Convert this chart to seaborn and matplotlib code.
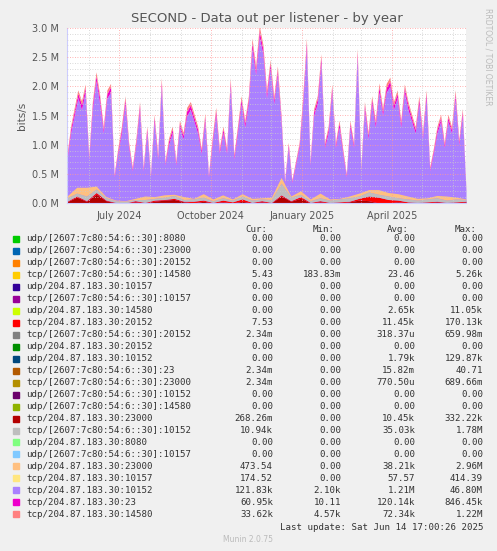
import numpy as np
import pandas as pd
import matplotlib
matplotlib.use("Agg")
import matplotlib.pyplot as plt
import matplotlib.dates as mdates
import seaborn as sns

# -------------------------------
# Data (bits/s)
# -------------------------------
start, end = "2024-05-10", "2025-06-14"

# tcp/204.87.183.30:10152 (purple, main series), in M
purple = [0.75, 1.2, 1.5, 1.8, 1.6, 1.9, 0.75, 1.6, 2.1, 1.7, 1.2, 1.8, 1.9, 0.45, 0.85,
          1.2, 1.7, 0.95, 0.55, 1.0, 1.6, 0.55, 1.2, 0.45, 1.4, 0.75, 2.0, 0.65, 1.0, 1.2,
          0.65, 1.3, 1.1, 1.5, 1.6, 1.4, 1.2, 0.85, 1.4, 0.45, 1.0, 1.5, 0.85, 1.2, 0.85,
          2.0, 0.75, 1.2, 1.7, 1.3, 1.7, 2.65, 2.2, 2.85, 2.55, 1.8, 2.3, 1.7, 2.2, 1.4,
          0.35, 0.95, 0.35, 0.65, 0.95, 1.7, 2.65, 0.65, 1.5, 1.7, 2.4, 0.95, 1.2, 1.9,
          0.95, 1.3, 0.85, 0.45, 1.3, 0.95, 2.5, 0.55, 1.6, 1.1, 1.7, 1.3, 1.9, 1.5, 1.9,
          2.0, 1.6, 1.8, 1.3, 1.9, 1.6, 1.4, 1.2, 1.7, 1.1, 1.8, 0.55, 0.85, 1.2, 1.4, 0.95,
          1.4, 1.2, 1.8, 1.0, 1.5, 0.2]
# tcp/204.87.183.30:23 (magenta), in M
magenta = [0.05, 0.07, 0.08, 0.08, 0.09, 0.08, 0.04, 0.09, 0.08, 0.10, 0.06, 0.08, 0.09, 0.03, 0.05,
           0.07, 0.08, 0.05, 0.04, 0.06, 0.08, 0.04, 0.07, 0.03, 0.07, 0.05, 0.08, 0.04, 0.06, 0.07,
           0.04, 0.07, 0.06, 0.08, 0.08, 0.07, 0.07, 0.05, 0.08, 0.03, 0.06, 0.08, 0.05, 0.07, 0.05,
           0.08, 0.05, 0.07, 0.08, 0.07, 0.08, 0.10, 0.08, 0.10, 0.09, 0.08, 0.09, 0.07, 0.08, 0.07,
           0.03, 0.05, 0.03, 0.04, 0.05, 0.08, 0.10, 0.04, 0.07, 0.08, 0.09, 0.05, 0.07, 0.08,
           0.05, 0.07, 0.05, 0.03, 0.07, 0.05, 0.08, 0.04, 0.08, 0.06, 0.08, 0.07, 0.09, 0.07, 0.08,
           0.09, 0.08, 0.08, 0.07, 0.08, 0.08, 0.07, 0.06, 0.08, 0.06, 0.08, 0.04, 0.05, 0.07, 0.07, 0.05,
           0.07, 0.06, 0.08, 0.05, 0.07, 0.01]
# tcp/204.87.183.30:14580 (salmon), in M
salmon = [0.04, 0.05, 0.06, 0.06, 0.06, 0.06, 0.03, 0.06, 0.07, 0.06, 0.05, 0.06, 0.06, 0.02, 0.04,
          0.05, 0.06, 0.04, 0.03, 0.05, 0.06, 0.03, 0.05, 0.02, 0.05, 0.04, 0.07, 0.03, 0.05, 0.05,
          0.03, 0.05, 0.05, 0.06, 0.06, 0.06, 0.05, 0.04, 0.06, 0.02, 0.05, 0.06, 0.04, 0.05, 0.04,
          0.07, 0.04, 0.05, 0.06, 0.05, 0.06, 0.08, 0.07, 0.09, 0.08, 0.06, 0.07, 0.06, 0.07, 0.05,
          0.02, 0.04, 0.02, 0.03, 0.04, 0.06, 0.08, 0.03, 0.05, 0.06, 0.07, 0.04, 0.05, 0.06,
          0.04, 0.05, 0.04, 0.02, 0.05, 0.04, 0.07, 0.03, 0.06, 0.05, 0.06, 0.05, 0.07, 0.06, 0.07,
          0.07, 0.06, 0.06, 0.05, 0.06, 0.06, 0.05, 0.05, 0.06, 0.05, 0.06, 0.03, 0.04, 0.05, 0.05, 0.04,
          0.05, 0.05, 0.06, 0.04, 0.05, 0.01]

# small bottom series (coarser), in M
low_darkred = [0.02, 0.10, 0.03, 0.15, 0.04, 0.0, 0.0, 0.02, 0.0, 0.03, 0.05, 0.06, 0.02, 0.0, 0.03,
               0.0, 0.02, 0.0, 0.03, 0.0, 0.02, 0.0, 0.12, 0.03, 0.08, 0.0, 0.02, 0.0, 0.0, 0.02,
               0.05, 0.04, 0.0, 0.0, 0.02, 0.0, 0.0, 0.0, 0.02, 0.0, 0.0, 0.02]
low_red = [0.01, 0.02, 0.01, 0.03, 0.01, 0.01, 0.0, 0.02, 0.01, 0.02, 0.01, 0.02, 0.01, 0.03, 0.02,
           0.01, 0.03, 0.02, 0.04, 0.01, 0.02, 0.01, 0.02, 0.01, 0.03, 0.01, 0.02, 0.01, 0.02, 0.01,
           0.03, 0.08, 0.10, 0.06, 0.03, 0.02, 0.01, 0.02, 0.01, 0.01, 0.02, 0.01]
low_grey = [0.06, 0.05, 0.08, 0.06, 0.04, 0.03, 0.03, 0.02, 0.05, 0.03, 0.04, 0.05, 0.03, 0.04, 0.05,
            0.03, 0.04, 0.03, 0.05, 0.04, 0.03, 0.05, 0.20, 0.06, 0.04, 0.03, 0.05, 0.04, 0.05, 0.06,
            0.04, 0.07, 0.05, 0.06, 0.04, 0.05, 0.04, 0.05, 0.06, 0.04, 0.05, 0.03]
low_orange = [0.03, 0.10, 0.15, 0.05, 0.02, 0.01, 0.01, 0.02, 0.06, 0.03, 0.04, 0.02, 0.05, 0.01, 0.06,
              0.03, 0.05, 0.02, 0.04, 0.03, 0.02, 0.04, 0.10, 0.02, 0.06, 0.03, 0.08, 0.02, 0.01, 0.03,
              0.05, 0.04, 0.08, 0.06, 0.07, 0.05, 0.03, 0.02, 0.04, 0.07, 0.03, 0.01]

labels = ["udp/[2607:7c80:54:6::30]:8080", "udp/[2607:7c80:54:6::30]:23000",
          "udp/[2607:7c80:54:6::30]:20152", "tcp/[2607:7c80:54:6::30]:14580",
          "udp/204.87.183.30:10157", "tcp/[2607:7c80:54:6::30]:10157",
          "udp/204.87.183.30:14580", "tcp/204.87.183.30:20152",
          "tcp/[2607:7c80:54:6::30]:20152", "udp/204.87.183.30:20152",
          "udp/204.87.183.30:10152", "tcp/[2607:7c80:54:6::30]:23",
          "tcp/[2607:7c80:54:6::30]:23000", "udp/[2607:7c80:54:6::30]:10152",
          "udp/[2607:7c80:54:6::30]:14580", "tcp/204.87.183.30:23000",
          "tcp/[2607:7c80:54:6::30]:10152", "udp/204.87.183.30:8080",
          "udp/[2607:7c80:54:6::30]:10157", "udp/204.87.183.30:23000",
          "tcp/204.87.183.30:10157", "tcp/204.87.183.30:10152",
          "tcp/204.87.183.30:23", "tcp/204.87.183.30:14580"]
cur = ["0.00", "0.00", "0.00", "5.43", "0.00", "0.00", "0.00", "7.53", "2.34m", "0.00", "0.00",
       "2.34m", "2.34m", "0.00", "0.00", "268.26m", "10.94k", "0.00", "0.00", "473.54", "174.52",
       "121.83k", "60.95k", "33.62k"]
mins = ["0.00", "0.00", "0.00", "183.83m", "0.00", "0.00", "0.00", "0.00", "0.00", "0.00", "0.00",
        "0.00", "0.00", "0.00", "0.00", "0.00", "0.00", "0.00", "0.00", "0.00", "0.00",
        "2.10k", "10.11", "4.57k"]
avgs = ["0.00", "0.00", "0.00", "23.46", "0.00", "0.00", "2.65k", "11.45k", "318.37u", "0.00",
        "1.79k", "15.82m", "770.50u", "0.00", "0.00", "10.45k", "35.03k", "0.00", "0.00",
        "38.21k", "57.57", "1.21M", "120.14k", "72.34k"]
maxs = ["0.00", "0.00", "0.00", "5.26k", "0.00", "0.00", "11.05k", "170.13k", "659.98m", "0.00",
        "129.87k", "40.71", "689.66m", "0.00", "0.00", "332.22k", "1.78M", "0.00", "0.00",
        "2.96M", "414.39", "46.80M", "846.45k", "1.22M"]
colors = ["#00CC00", "#0066B3", "#FF8000", "#FFCC00", "#330099", "#990099", "#CCFF00", "#FF0000",
          "#808080", "#008F00", "#00487D", "#B35A00", "#B38F00", "#6B006B", "#8FB300", "#B30000",
          "#BEBEBE", "#80FF80", "#80C9FF", "#FFC080", "#FFE680", "#AA80FF", "#EE00CC", "#FF8080"]

# -------------------------------
# Plot
# -------------------------------
sns.set_style("white")
plt.rcParams['font.family'] = ['DejaVu Sans']

fig = plt.figure(figsize=(4.97, 5.51), dpi=100, facecolor="#F0F0F0")
ax = fig.add_axes([67 / 497, 1 - 203 / 551, 399 / 497, 175 / 551])
ax.set_facecolor("white")

dates = pd.date_range(start, end, periods=len(purple))
ax.stackplot(dates, np.array(purple) * 1e6, np.array(magenta) * 1e6, np.array(salmon) * 1e6,
             colors=["#AA80FF", "#EE00CC", "#FF8080"], linewidth=0)

dates_low = pd.date_range(start, end, periods=len(low_grey))
ax.stackplot(dates_low, np.array(low_darkred) * 1e6, np.array(low_red) * 1e6,
             np.array(low_grey) * 1e6, np.array(low_orange) * 1e6,
             colors=["#B30000", "#FF0000", "#BEBEBE", "#FFC080"], linewidth=0)

ax.set_xlim(pd.Timestamp(start), pd.Timestamp(end))
ax.set_ylim(0, 3.0e6)
ax.set_yticks(np.arange(0, 3.01e6, 0.5e6))
ax.set_yticks(np.arange(0, 3.01e6, 0.1e6), minor=True)
ax.set_yticklabels([f"{v:.1f} M" for v in np.arange(0, 3.01, 0.5)])
ax.xaxis.set_major_locator(mdates.MonthLocator(bymonth=[1, 4, 7, 10]))
ax.xaxis.set_major_formatter(mdates.DateFormatter("%B %Y"))
ax.xaxis.set_minor_locator(mdates.MonthLocator())
ax.grid(True, which="major", color="#FF9999", linestyle=(0, (1, 2)), linewidth=0.6)
ax.grid(True, which="minor", color="#CCCCCC", linestyle=(0, (1, 2)), linewidth=0.6)
ax.set_axisbelow(False)
ax.tick_params(labelsize=7, colors="#555555", length=2)
for s in ["top", "right"]:
    ax.spines[s].set_visible(False)
for s in ["left", "bottom"]:
    ax.spines[s].set_color("#CCCCFF")
ax.set_ylabel("bits/s", fontsize=7.5, color="#555555")
ax.set_title("SECOND - Data out per listener - by year", fontsize=9.5, color="#555555", pad=4)

fig.text(488 / 497, 1 - 8 / 551, "RRDTOOL / TOBI OETIKER", rotation=270, fontsize=5.5,
         color="#BBBBBB", ha="center", va="top")

# legend table
mono = "DejaVu Sans Mono"
fs = 6.6
col_x = [273, 341, 415, 483]
head_y = 229
for x, h in zip(col_x, ["Cur:", "Min:", "Avg:", "Max:"]):
    fig.text((x - 6) / 497, 1 - head_y / 551, h, family=mono, fontsize=fs, ha="right",
             va="center", color="#333333")
for i, lab in enumerate(labels):
    y = 1 - (239 + i * 11.97) / 551
    fig.patches.append(plt.Rectangle((13 / 497, y - 3 / 551), 6 / 497, 6 / 551,
                                     transform=fig.transFigure, color=colors[i]))
    fig.text(26 / 497, y, lab, family=mono, fontsize=fs, va="center", color="#333333")
    for x, v in zip(col_x, [cur[i], mins[i], avgs[i], maxs[i]]):
        fig.text(x / 497, y, v, family=mono, fontsize=fs, ha="right", va="center", color="#333333")
fig.text(483 / 497, 1 - 527 / 551, "Last update: Sat Jun 14 17:00:26 2025", family=mono,
         fontsize=fs, ha="right", va="center", color="#333333")
fig.text(248 / 497, 1 - 540 / 551, "Munin 2.0.75", fontsize=5.5, ha="center", va="center",
         color="#BBBBBB")

fig.savefig("out.png", dpi=100, facecolor=fig.get_facecolor())
